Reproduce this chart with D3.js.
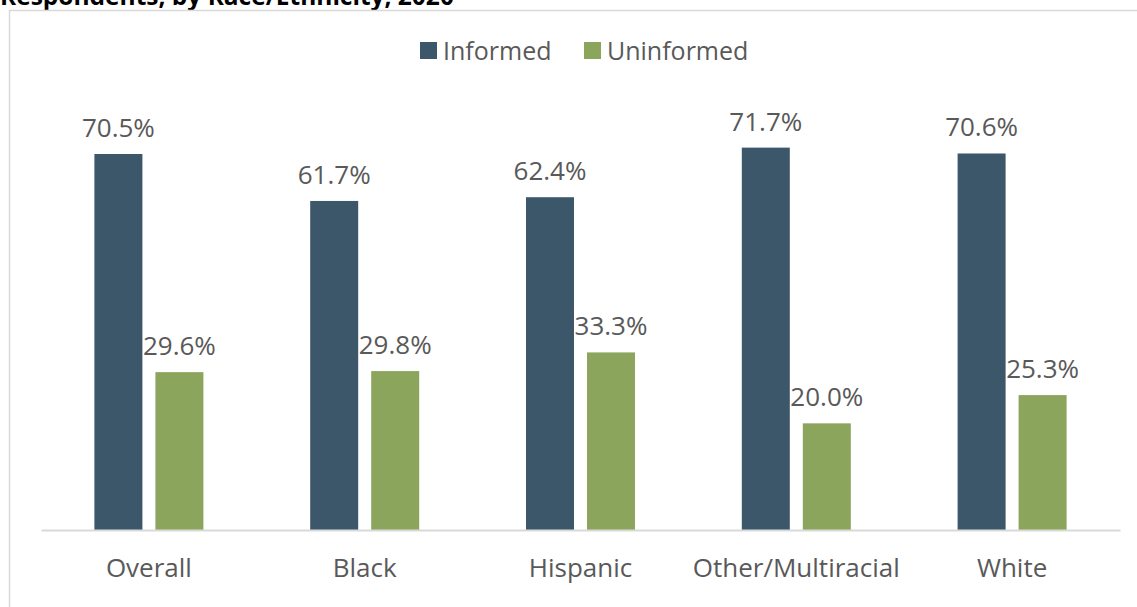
<!DOCTYPE html>
<html>
<head>
<meta charset="utf-8">
<script src="https://cdn.jsdelivr.net/npm/d3@7"></script>
<style>
  html, body { margin: 0; padding: 0; background: #fff; overflow: hidden; }
  text { font-family: "Open Sans", "DejaVu Sans", sans-serif; }
</style>
</head>
<body>
<div id="chart-container"></div>
<script>
const categories = ['Overall', 'Black', 'Hispanic', 'Other/Multiracial', 'White']
const seriesNames = ['Informed', 'Uninformed']
const informed = [70.5, 61.7, 62.4, 71.7, 70.6]
const uninformed = [29.6, 29.8, 33.3, 20.0, 25.3]
const colors = ['#3c566a', '#8ba65c']

const chartWidth = 1137
const chartHeight = 607
const plot = { left: 41, right: 1120, bottom: 530 }
const textColor = '#595959'
const fontSize = 26

const svg = d3
  .select('#chart-container')
  .append('svg')
  .attr('width', chartWidth)
  .attr('height', chartHeight)

// title is clipped by the top of the window
svg
  .append('text')
  .attr('x', 0)
  .attr('y', 5)
  .attr('font-size', 24.5)
  .attr('font-weight', 'bold')
  .attr('fill', '#000')
  .text('Respondents, by Race/Ethnicity, 2020')

// chart frame
svg
  .append('path')
  .attr('d', `M9.5,${chartHeight + 5}V10.5H${chartWidth + 5}`)
  .attr('fill', 'none')
  .attr('stroke', '#d9d9d9')
  .attr('stroke-width', 1.5)

const xScale = d3.scaleBand().domain(categories).range([plot.left, plot.right])
const yScale = d3.scaleLinear().domain([0, 80]).range([plot.bottom, plot.bottom - 80 * 5.333])

const barWidth = 48
const barGap = 13
const offsets = [-(barGap / 2) - barWidth, barGap / 2]

const rows = categories.map((c, i) => ({ c, values: [informed[i], uninformed[i]] }))

seriesNames.forEach((name, s) => {
  const g = svg.append('g').attr('class', `series-${s}`)
  g.selectAll('rect')
    .data(rows)
    .enter()
    .append('rect')
    .attr('x', d => xScale(d.c) + xScale.bandwidth() / 2 + offsets[s])
    .attr('y', d => yScale(d.values[s]))
    .attr('width', barWidth)
    .attr('height', d => plot.bottom - yScale(d.values[s]))
    .attr('fill', colors[s])

  g.selectAll('text')
    .data(rows)
    .enter()
    .append('text')
    .attr('x', d => xScale(d.c) + xScale.bandwidth() / 2 + offsets[s] + barWidth / 2)
    .attr('y', d => yScale(d.values[s]) - 17)
    .attr('text-anchor', 'middle')
    .attr('font-size', fontSize)
    .attr('fill', textColor)
    .text(d => d.values[s].toFixed(1) + '%')
})

// x axis
const xAxis = svg
  .append('g')
  .attr('transform', `translate(0,${plot.bottom})`)
  .call(d3.axisBottom(xScale).tickSize(0).tickPadding(29))
xAxis.select('.domain').attr('stroke', '#d9d9d9').attr('stroke-width', 2)
xAxis
  .selectAll('.tick text')
  .attr('font-size', fontSize)
  .attr('fill', textColor)
  .attr('font-family', '"Open Sans", sans-serif')

// legend
const legendItems = [
  { name: seriesNames[0], x: 420, color: colors[0] },
  { name: seriesNames[1], x: 584, color: colors[1] }
]
const legend = svg.append('g')
legend
  .selectAll('rect')
  .data(legendItems)
  .enter()
  .append('rect')
  .attr('x', d => d.x)
  .attr('y', 42)
  .attr('width', 17)
  .attr('height', 17)
  .attr('fill', d => d.color)
legend
  .selectAll('text')
  .data(legendItems)
  .enter()
  .append('text')
  .attr('x', d => d.x + 23)
  .attr('y', 60)
  .attr('font-size', 25)
  .attr('fill', textColor)
  .text(d => d.name)
</script>
</body>
</html>
